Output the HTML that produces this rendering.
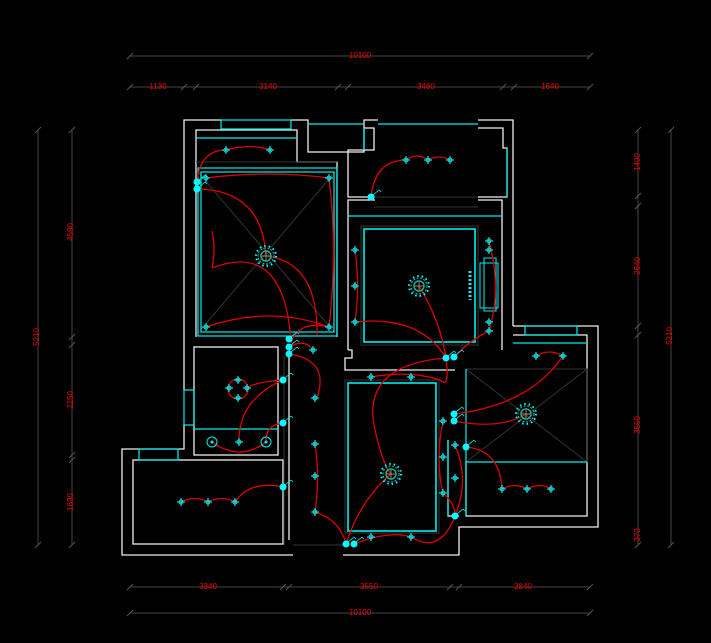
<!DOCTYPE html>
<html><head><meta charset="utf-8"><style>html,body{margin:0;padding:0;background:#000;width:711px;height:643px;overflow:hidden}svg{display:block}</style></head>
<body>
<svg width="711" height="643" viewBox="0 0 711 643" xmlns="http://www.w3.org/2000/svg">
<defs>
<g id="x"><line x1="-4" y1="0" x2="4" y2="0" stroke="#0ff" stroke-width="1"/><line x1="0" y1="-4" x2="0" y2="4" stroke="#0ff" stroke-width="1"/><circle r="2" fill="none" stroke="#0ff" stroke-width="0.8"/></g>
<g id="L"><circle r="8" fill="none" stroke="#0cc" stroke-width="1" stroke-dasharray="2 1.5"/><circle r="5" fill="none" stroke="#3a8" stroke-width="1.5"/><circle r="10" fill="none" stroke="#0ff" stroke-width="2" stroke-dasharray="1.5 3"/><line x1="-4" y1="0" x2="4" y2="0" stroke="#888"/><line x1="0" y1="-4" x2="0" y2="4" stroke="#888"/></g>
<g id="s"><circle r="3.5" fill="#0ff"/><line x1="2" y1="-2" x2="8" y2="-7" stroke="#0ff" stroke-width="0.8"/><line x1="8" y1="-7" x2="10" y2="-5" stroke="#0ff" stroke-width="0.8"/></g>
<g id="t"><line x1="-3" y1="3" x2="3" y2="-3" stroke="#555" stroke-width="1"/></g>
</defs>
<g font-family="Liberation Sans, sans-serif" font-size="8" fill="#e00" text-anchor="middle">
<!-- dimension lines -->
<g stroke="#444" stroke-width="1" fill="none">
<line x1="130" y1="56" x2="590" y2="56"/><line x1="130" y1="87" x2="590" y2="87"/>
<line x1="130" y1="587" x2="590" y2="587"/><line x1="130" y1="613" x2="590" y2="613"/>
<line x1="38" y1="130" x2="38" y2="545"/><line x1="72" y1="130" x2="72" y2="545"/>
<line x1="638" y1="130" x2="638" y2="545"/><line x1="671" y1="130" x2="671" y2="545"/>
</g>
<g>
<use href="#t" x="130" y="56"/><use href="#t" x="590" y="56"/>
<use href="#t" x="130" y="87"/><use href="#t" x="184" y="87"/><use href="#t" x="196" y="87"/><use href="#t" x="338" y="87"/><use href="#t" x="348" y="87"/><use href="#t" x="503" y="87"/><use href="#t" x="514" y="87"/><use href="#t" x="590" y="87"/>
<use href="#t" x="130" y="587"/><use href="#t" x="283" y="587"/><use href="#t" x="289" y="587"/><use href="#t" x="450" y="587"/><use href="#t" x="459" y="587"/><use href="#t" x="590" y="587"/>
<use href="#t" x="130" y="613"/><use href="#t" x="590" y="613"/>
<use href="#t" x="38" y="130"/><use href="#t" x="38" y="545"/><use href="#t" x="72" y="130"/><use href="#t" x="72" y="337"/><use href="#t" x="72" y="345"/><use href="#t" x="72" y="455"/><use href="#t" x="72" y="460"/><use href="#t" x="72" y="545"/>
<use href="#t" x="638" y="130"/><use href="#t" x="638" y="196"/><use href="#t" x="638" y="206"/><use href="#t" x="638" y="326"/><use href="#t" x="638" y="335"/><use href="#t" x="638" y="545"/><use href="#t" x="671" y="130"/><use href="#t" x="671" y="545"/>
</g>
<text x="360" y="58">10100</text>
<text x="158" y="89">1130</text><text x="268" y="89">3140</text><text x="426" y="89">3460</text><text x="550" y="89">1640</text>
<text x="208" y="589">3340</text><text x="369" y="589">3550</text><text x="523" y="589">2840</text>
<text x="360" y="615">10100</text>
<text transform="translate(73,232) rotate(-90)">4590</text>
<text transform="translate(73,400) rotate(-90)">2250</text>
<text transform="translate(73,502) rotate(-90)">1690</text>
<text transform="translate(39,337) rotate(-90)">5210</text>
<text transform="translate(640,162) rotate(-90)">1490</text>
<text transform="translate(640,266) rotate(-90)">2640</text>
<text transform="translate(640,425) rotate(-90)">3550</text>
<text transform="translate(640,535) rotate(-90)">370</text>
<text transform="translate(672,336) rotate(-90)">5210</text>
</g>
<!-- walls -->
<g fill="none" stroke="#eee" stroke-width="1.3">
<polyline points="221,120 184,120 184,390"/>
<polyline points="184,425 184,449 122,449 122,555 293,555"/>
<polyline points="291,120 308,120 308,152 364,152 364,120 378,120"/>
<polyline points="478,120 513,120 513,326"/>
<polyline points="513,326 598,326 598,527 459,527 459,555 343,555"/>
<polyline points="196,337 196,130 297,130 297,162 337,162 337,337"/>
<polyline points="364,128 374,128 374,150 348,150 348,197 375,197"/>
<polyline points="478,128 503,128 503,148 507,148 507,197 478,197"/>
<polyline points="375,200 348,200 348,350"/>
<polyline points="478,200 502,200 502,350"/>
<polyline points="513,335 587,335 587,516 466,516 466,462"/>
<rect x="194" y="347" width="84" height="108"/>
<rect x="133" y="460" width="150" height="84"/>
<polyline points="289,355 289,540"/>
<polyline points="448,440 448,516 459,516"/>
<polyline points="348,350 352,350 352,358 345,358 345,370 455,370"/>
</g>
<!-- gray lines -->
<g fill="none" stroke="#333" stroke-width="1">
<rect x="361" y="226" width="117" height="119"/>
<rect x="345" y="380" width="94" height="153"/>
<line x1="198" y1="172" x2="335" y2="333"/><line x1="335" y1="172" x2="198" y2="333"/>
<rect x="466" y="369" width="121" height="93"/>
<line x1="466" y1="369" x2="587" y2="462"/><line x1="587" y1="369" x2="466" y2="462"/>
<line x1="374" y1="197" x2="478" y2="197"/><line x1="374" y1="207" x2="478" y2="207"/>
<line x1="284" y1="355" x2="284" y2="545"/><line x1="293" y1="545" x2="343" y2="545"/>
<line x1="196" y1="162" x2="337" y2="162"/>
</g>
<!-- cyan -->
<g fill="none" stroke="#0ee" stroke-width="1.2">
<rect x="221" y="120" width="70" height="9"/>
<line x1="308" y1="124" x2="364" y2="124"/><line x1="378" y1="124" x2="478" y2="124"/>
<line x1="196" y1="138" x2="297" y2="138"/>
<rect x="198" y="168" width="139" height="168"/>
<rect x="201" y="172" width="133" height="160"/>
<line x1="364" y1="128" x2="364" y2="150"/>
<line x1="507" y1="148" x2="507" y2="197"/>
<line x1="348" y1="216" x2="502" y2="216"/>
<rect x="364" y="229" width="111" height="113" stroke-width="1.6"/>
<rect x="348" y="383" width="88" height="148" stroke-width="1.6"/>
<line x1="513" y1="343" x2="587" y2="343"/>
<line x1="466" y1="369" x2="466" y2="516"/><line x1="466" y1="462" x2="587" y2="462"/>
<rect x="525" y="326" width="52" height="9"/>
<line x1="194" y1="429" x2="278" y2="429"/>
<rect x="184" y="390" width="10" height="35"/>
<rect x="139" y="449" width="39" height="11"/>
<line x1="448" y1="440" x2="448" y2="516"/>
<rect x="480" y="263" width="18" height="45" stroke-width="1"/>
<rect x="484" y="258" width="12" height="53" stroke-width="1"/>
<line x1="470" y1="271" x2="470" y2="300" stroke-dasharray="2 2" stroke-width="3"/>
</g>
<!-- red wiring -->
<g fill="none" stroke="#d00" stroke-width="1.3">
<path d="M197,182 Q200,150 226,150 Q250,143 270,150"/>
<path d="M206,178 Q270,170 329,178"/>
<path d="M329,178 Q338,250 329,327"/>
<path d="M206,327 Q270,305 329,327"/>
<path d="M197,189 Q262,190 266,256"/>
<path d="M266,256 Q318,262 317,335"/>
<path d="M212,231 Q216,250 212,268"/>
<path d="M212,268 Q285,240 291,343"/>
<path d="M329,327 Q300,320 291,342"/>
<path d="M371,197 Q375,160 406,160 Q417,152 428,160 Q439,154 450,160"/>
<path d="M355,250 Q360,286 355,322"/>
<path d="M355,322 Q420,315 446,358"/>
<path d="M419,286 Q440,320 446,358"/>
<path d="M489,241 Q502,290 489,331 Q470,340 454,357"/>
<path d="M289,354 Q330,360 317,398"/>
<path d="M289,347 Q305,338 313,350"/>
<circle cx="238" cy="389" r="10"/>
<path d="M283,380 Q255,382 247,388"/>
<path d="M283,380 Q238,400 239,442"/>
<path d="M283,423 Q265,425 266,442"/>
<path d="M212,442 Q240,462 266,442"/>
<path d="M283,487 Q250,480 235,502 Q222,495 208,502 Q195,495 181,502"/>
<path d="M315,444 Q320,478 315,512"/>
<path d="M315,512 Q340,520 346,544"/>
<path d="M346,544 Q360,500 391,474"/>
<path d="M371,377 Q410,370 440,380 Q450,390 446,358"/>
<path d="M446,358 Q360,365 375,430 Q383,465 391,474"/>
<path d="M354,544 Q390,530 411,537 Q440,555 455,516"/>
<path d="M443,421 Q435,460 443,493 Q456,505 455,516"/>
<path d="M455,445 Q470,480 455,516"/>
<path d="M454,414 Q530,405 563,356"/>
<path d="M536,356 Q550,348 563,356"/>
<path d="M454,421 Q500,430 526,414"/>
<path d="M466,447 Q500,450 502,489 Q515,482 527,489 Q540,482 551,489"/>
</g>
<!-- lamps -->
<use href="#L" x="266" y="256"/><use href="#L" x="419" y="286"/><use href="#L" x="391" y="474"/><use href="#L" x="526" y="414"/>
<circle cx="212" cy="442" r="5" fill="none" stroke="#0ee"/><circle cx="212" cy="442" r="1.5" fill="#0ee"/>
<circle cx="266" cy="442" r="5" fill="none" stroke="#0ee"/><circle cx="266" cy="442" r="1.5" fill="#0ee"/>
<!-- crosses -->
<g>
<use href="#x" x="226" y="150"/><use href="#x" x="270" y="150"/>
<use href="#x" x="206" y="178"/><use href="#x" x="329" y="178"/><use href="#x" x="206" y="327"/><use href="#x" x="329" y="327"/>
<use href="#x" x="406" y="160"/><use href="#x" x="428" y="160"/><use href="#x" x="450" y="160"/>
<use href="#x" x="355" y="250"/><use href="#x" x="355" y="286"/><use href="#x" x="355" y="322"/>
<use href="#x" x="489" y="241"/><use href="#x" x="489" y="250"/><use href="#x" x="489" y="322"/><use href="#x" x="489" y="331"/>
<use href="#x" x="313" y="350"/><use href="#x" x="315" y="398"/>
<use href="#x" x="238" y="380"/><use href="#x" x="229" y="388"/><use href="#x" x="247" y="388"/><use href="#x" x="238" y="398"/>
<use href="#x" x="239" y="442"/>
<use href="#x" x="315" y="444"/><use href="#x" x="315" y="476"/><use href="#x" x="315" y="512"/>
<use href="#x" x="181" y="502"/><use href="#x" x="208" y="502"/><use href="#x" x="235" y="502"/>
<use href="#x" x="371" y="377"/><use href="#x" x="411" y="377"/>
<use href="#x" x="371" y="537"/><use href="#x" x="411" y="537"/>
<use href="#x" x="443" y="421"/><use href="#x" x="443" y="457"/><use href="#x" x="443" y="493"/><use href="#x" x="455" y="478"/><use href="#x" x="455" y="445"/>
<use href="#x" x="536" y="356"/><use href="#x" x="563" y="356"/>
<use href="#x" x="502" y="489"/><use href="#x" x="527" y="489"/><use href="#x" x="551" y="489"/>
</g>
<!-- switches -->
<g>
<use href="#s" x="197" y="182"/><use href="#s" x="197" y="189"/><use href="#s" x="371" y="197"/>
<use href="#s" x="289" y="339"/><use href="#s" x="289" y="347"/><use href="#s" x="289" y="354"/>
<use href="#s" x="283" y="380"/><use href="#s" x="283" y="423"/><use href="#s" x="283" y="487"/>
<use href="#s" x="346" y="544"/><use href="#s" x="354" y="544"/>
<use href="#s" x="446" y="358"/><use href="#s" x="454" y="357"/>
<use href="#s" x="454" y="414"/><use href="#s" x="454" y="421"/><use href="#s" x="466" y="447"/><use href="#s" x="455" y="516"/>
</g>
</svg>
</body></html>
